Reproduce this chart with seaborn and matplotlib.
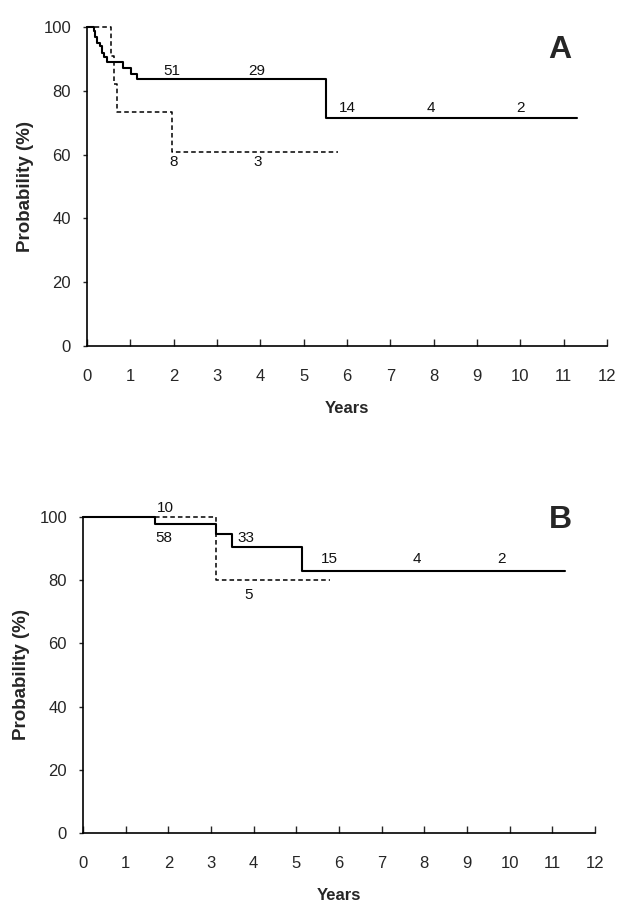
import numpy as np
import pandas as pd
import seaborn as sns
import matplotlib.pyplot as plt

# --- data ---
# Panel A: Kaplan-Meier curves (years, probability %)
a_solid_t = [0, 0.15, 0.19, 0.24, 0.29, 0.34, 0.39, 0.45, 0.82, 1.01, 1.16, 5.52, 11.3]
a_solid_p = [100, 98.6, 97.0, 95.1, 93.9, 92.0, 90.7, 88.9, 87.3, 85.4, 83.7, 71.6, 71.6]
a_dash_t = [0, 0.55, 0.62, 0.69, 1.96, 5.8]
a_dash_p = [100, 91.0, 82.0, 73.2, 60.7, 60.7]
# numbers at risk written on panel A
a_risk_x = [1.96, 3.92, 6.0, 7.94, 10.0, 1.99, 3.95]
a_risk_y = [86.3, 86.3, 74.6, 74.6, 74.6, 57.6, 57.6]
a_risk_txt = ['51', '29', '14', '4', '2', '8', '3']

# Panel B
b_solid_t = [0, 1.69, 3.11, 3.5, 5.14, 11.3]
b_solid_p = [100, 97.9, 94.5, 90.6, 82.9, 82.9]
b_dash_t = [1.69, 3.12, 5.8]
b_dash_p = [100, 80.1, 80.1]
b_risk_x = [1.92, 1.9, 3.83, 5.78, 7.83, 9.8, 3.87]
b_risk_y = [103.0, 93.3, 93.3, 86.8, 86.8, 86.8, 75.2]
b_risk_txt = ['10', '58', '33', '15', '4', '2', '5']

years = list(range(0, 13))
prob_ticks = [0, 20, 40, 60, 80, 100]

sns.set_style('white')
plt.rcParams['font.family'] = ['Liberation Sans', 'DejaVu Sans']

fig = plt.figure(figsize=(6.24, 9.13), dpi=100)
ax_a = fig.add_axes([87 / 624, 1 - 346 / 913, 520 / 624, 319 / 913])
ax_b = fig.add_axes([83 / 624, 1 - 833 / 913, 512 / 624, 316 / 913])


def km_panel(ax, st, sp, dt, dp, rx, ry, rtxt, letter, lx, ly):
    solid = pd.DataFrame({'t': st, 'p': sp})
    dash = pd.DataFrame({'t': dt, 'p': dp})
    sns.lineplot(data=dash, x='t', y='p', ax=ax, estimator=None, color='black',
                 drawstyle='steps-post', linewidth=1.1, linestyle=(0, (3, 2)), clip_on=False)
    sns.lineplot(data=solid, x='t', y='p', ax=ax, estimator=None, color='black',
                 drawstyle='steps-post', linewidth=1.5, clip_on=False)
    for x, y, s in zip(rx, ry, rtxt):
        ax.text(x, y, s, ha='center', va='center', fontsize=11, color='#111111')
    ax.text(lx, ly, letter, ha='center', va='center', fontsize=23, fontweight='bold')

    ax.set_xlim(0, 12)
    ax.set_ylim(0, 100)
    ax.set_xticks(years)
    ax.set_yticks(prob_ticks)
    ax.tick_params(axis='x', direction='in', length=5, width=1, pad=16.5, labelsize=12)
    ax.tick_params(axis='y', direction='out', length=3, width=1, pad=8.5, labelsize=12)
    ax.tick_params(left=True, bottom=True)
    for side in ['top', 'right']:
        ax.spines[side].set_visible(False)
    for side in ['left', 'bottom']:
        ax.spines[side].set_color('black')
        ax.spines[side].set_linewidth(1.2)
    ax.set_xlabel('Years', fontsize=12, fontweight='bold', labelpad=12)
    ax.set_ylabel('Probability (%)', fontsize=13.5, fontweight='bold', labelpad=7)


km_panel(ax_a, a_solid_t, a_solid_p, a_dash_t, a_dash_p,
         a_risk_x, a_risk_y, a_risk_txt, 'A', 10.9, 92.8)
km_panel(ax_b, b_solid_t, b_solid_p, b_dash_t, b_dash_p,
         b_risk_x, b_risk_y, b_risk_txt, 'B', 11.2, 99.2)

fig.savefig('out.png', dpi=100)
